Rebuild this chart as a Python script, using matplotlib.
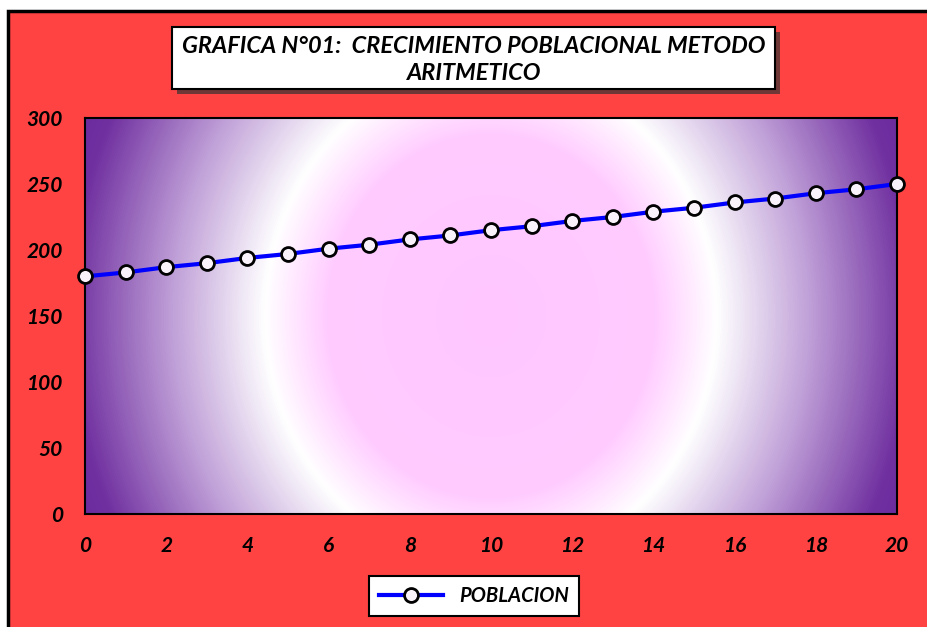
import numpy as np
import matplotlib
matplotlib.use("Agg")
import matplotlib.pyplot as plt
from matplotlib.colors import LinearSegmentedColormap
from matplotlib.patches import Rectangle

# data
anios = [0, 1, 2, 3, 4, 5, 6, 7, 8, 9, 10, 11, 12, 13, 14, 15, 16, 17, 18, 19, 20]
poblacion = [180, 183, 187, 190, 194, 197, 201, 204, 208, 211, 215,
             218, 222, 225, 229, 232, 236, 239, 243, 246, 250]
x_ticks = [0, 2, 4, 6, 8, 10, 12, 14, 16, 18, 20]
y_ticks = [0, 50, 100, 150, 200, 250, 300]
titulo = "GRAFICA N°01:  CRECIMIENTO POBLACIONAL METODO\nARITMETICO"
serie = "POBLACION"

plt.rcParams['font.family'] = ['Lato', 'DejaVu Sans']

W, H = 927, 627
fig = plt.figure(figsize=(W / 100, H / 100), dpi=100)
fig.patch.set_facecolor('white')

# red chart area with black border on top/left
fig.patches.append(Rectangle((8 / W, -0.05), 1.1, 1.05 - 11 / H,
                             transform=fig.transFigure, facecolor='#FF4242',
                             edgecolor='black', lw=2.5, zorder=-5))

left, right, top, bottom = 85, 897, 118, 514
ax = fig.add_axes([left / W, 1 - bottom / H, (right - left) / W, (bottom - top) / H])
ax.set_zorder(1)

# radial gradient background
pw, ph = right - left, bottom - top
xx, yy = np.meshgrid(np.linspace(-pw / 2, pw / 2, pw), np.linspace(-ph / 2, ph / 2, ph))
k = 0.9
r = np.sqrt(xx ** 2 + (k * yy) ** 2) / np.sqrt((pw / 2) ** 2 + (k * ph / 2) ** 2)
cmap = LinearSegmentedColormap.from_list('grad', [
    (0.0, '#FFC6FF'), (0.37, '#FFCCFF'), (0.51, '#FFFFFF'),
    (0.72, '#C0A0D8'), (0.95, '#7030A0'), (1.0, '#6C2C9E')])
ax.imshow(r, cmap=cmap, vmin=0, vmax=1, extent=[0, 20, 0, 300],
          aspect='auto', zorder=0, interpolation='bilinear')

ax.plot(anios, poblacion, color='#0000FF', lw=3, marker='o', markersize=10,
        markerfacecolor='#FAF2FA', markeredgecolor='black', markeredgewidth=2,
        label=serie, clip_on=False, zorder=3)

ax.set_xlim(0, 20)
ax.set_ylim(0, 300)
ax.set_xticks(x_ticks)
ax.set_yticks(y_ticks)
ax.tick_params(length=0, labelsize=15)
ax.tick_params(axis='x', pad=16)
ax.tick_params(axis='y', pad=16)
for lab in ax.get_xticklabels() + ax.get_yticklabels():
    lab.set_fontweight('bold')
    lab.set_fontstyle('italic')
for s in ax.spines.values():
    s.set_linewidth(1.5)
    s.set_color('black')

# title box with shadow
bx0, bx1, by0, by1 = 172, 775, 27, 89
fig.patches.append(Rectangle(((bx0 + 5) / W, 1 - (by1 + 5) / H), (bx1 - bx0) / W,
                             (by1 - by0) / H, transform=fig.transFigure,
                             facecolor='#333333', edgecolor='none', alpha=0.7, zorder=1))
fig.patches.append(Rectangle((bx0 / W, 1 - by1 / H), (bx1 - bx0) / W, (by1 - by0) / H,
                             transform=fig.transFigure, facecolor='white',
                             edgecolor='black', lw=1.5, zorder=2))
fig.text(474 / W, 1 - 60 / H, titulo, ha='center', va='center', fontsize=16.9,
         fontweight='bold', fontstyle='italic', linespacing=1.3, zorder=3)

leg = ax.legend(loc='center', bbox_to_anchor=(474 / W, 1 - 596 / H),
                bbox_transform=fig.transFigure, frameon=True, fancybox=False,
                handlelength=3.2, borderpad=0.5, borderaxespad=0,
                prop={'size': 14.5, 'weight': 'bold', 'style': 'italic'})
leg.get_frame().set_edgecolor('black')
leg.get_frame().set_linewidth(1.5)
leg.get_frame().set_alpha(1)

plt.savefig("out.png", dpi=100)
